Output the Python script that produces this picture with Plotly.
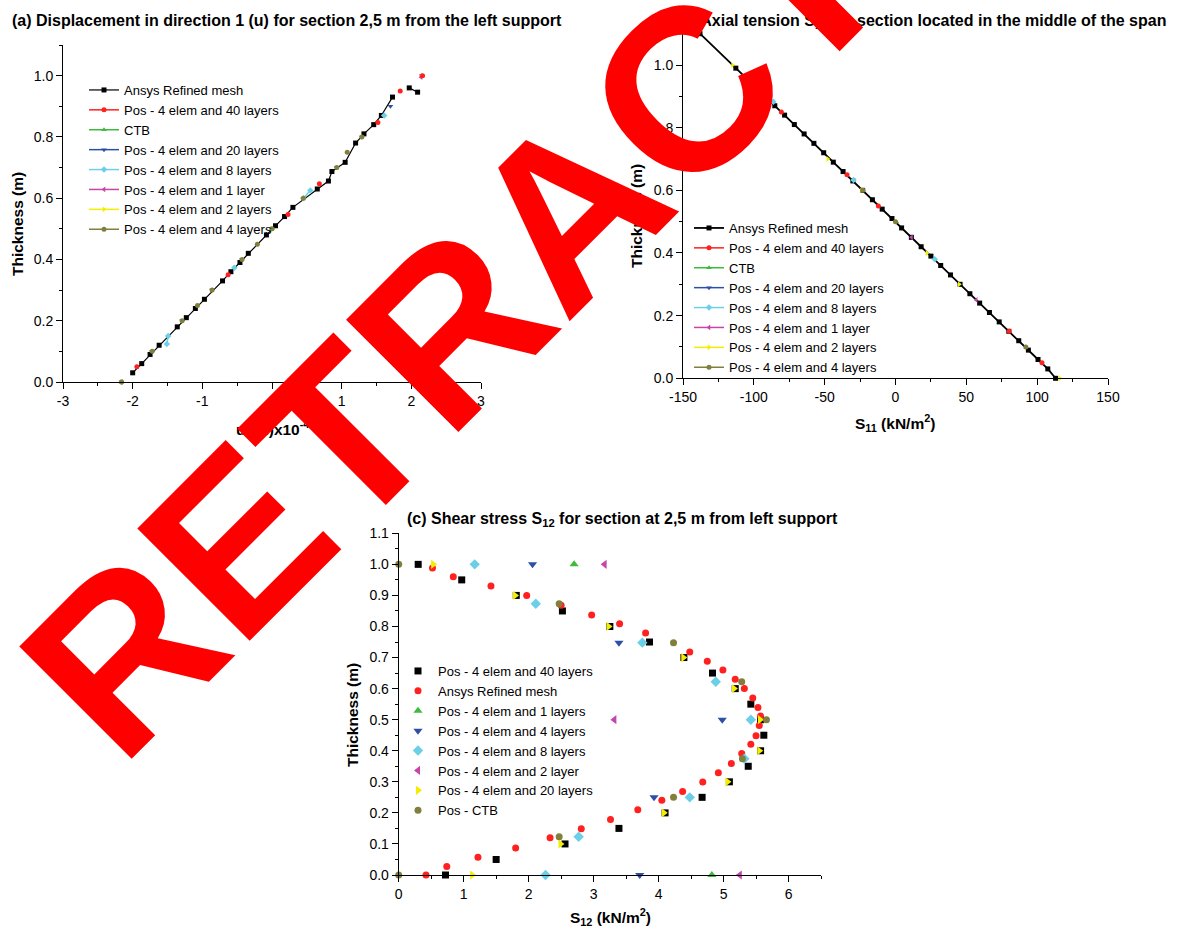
import plotly.graph_objects as go

W, H = 1178, 933
FONT = "Liberation Sans, Arial, Helvetica, sans-serif"


def px(x):
    return x / W


def py(y):
    return 1 - y / H


def separate(vals):
    """Insert gaps so consecutive points are not joined by a line."""
    out = []
    for i, v in enumerate(vals):
        if i:
            out.append(None)
        out.append(v)
    return out


# ---------------- (a) displacement u, section 2,5 m from left support ----------------
a_ansys_u = [-2.00, -1.87, -1.75, -1.62, -1.36, -1.23, -1.10, -0.97, -0.71, -0.59, -0.46, -0.34,
             -0.08, 0.05, 0.18, 0.30, 0.65, 0.81, 0.86, 1.05, 1.20, 1.32, 1.46, 1.57, 1.73, None,
             1.97, 2.09]
a_ansys_t = [0.03, 0.06, 0.09, 0.12, 0.18, 0.21, 0.24, 0.27, 0.33, 0.36, 0.39, 0.42,
             0.48, 0.51, 0.54, 0.57, 0.63, 0.656, 0.687, 0.717, 0.78, 0.81, 0.84, 0.87, 0.93, None,
             0.96, 0.946]
a_l40_u = [-1.94, -0.63, 0.23, 0.68, 1.52, 1.84, 2.16]
a_l40_t = [0.05, 0.35, 0.547, 0.647, 0.847, 0.95, 1.0]
a_ctb_u = [-2.16, 0.00, 2.16]
a_ctb_t = [0.0, 0.5, 1.0]
a_l20_u = [-2.16, -1.72, -1.29, -0.86, -0.43, 0.00, 0.45, 0.93, 1.29, 1.70, 2.15]
a_l20_t = [0.0, 0.1, 0.2, 0.3, 0.4, 0.5, 0.6, 0.7, 0.8, 0.9, 1.0]
a_l8_u = [-1.51, -1.49, None, -0.54, None, 0.45, 0.55, None, 1.61]
a_l8_t = [0.124, 0.15, None, 0.373, None, 0.60, 0.625, None, 0.87]
a_l1_u = [-2.16, 2.14]
a_l1_t = [0.0, 0.995]
a_l2_u = [-2.16, 0.00, 2.16]
a_l2_t = [0.0, 0.5, 1.0]
a_l4_u = [-2.16, -1.72, -1.29, -1.07, -0.86, -0.43, -0.21, 0.00, 0.45, 0.93, 1.08, 1.29]
a_l4_t = [0.0, 0.1, 0.2, 0.25, 0.3, 0.4, 0.45, 0.5, 0.6, 0.7, 0.75, 0.8]
a_xticks = [-3, -2, -1, 0, 1, 2, 3]
a_xlabels = ["-3", "-2", "-1", "0", "1", "2", "3"]

# ---------------- (b) axial tension S11, mid-span section ----------------
b_ansys_s = [113.0, 107.5, 100.6, 93.8, 87.0, 80.0, 73.2, 66.3, 59.4, 52.5, 45.6, 38.8,
             31.9, 25.0, 18.1, 11.2, 4.3, -2.5, -9.4, -16.3, -23.2, -30.1, -37.0, -43.9,
             -50.7, -57.6, -64.5, -71.4, -78.3, -85.2, -92.1, -98.9, -105.8, -112.7, -138.0]
b_ansys_t = [0.00, 0.03, 0.06, 0.09, 0.12, 0.15, 0.18, 0.21, 0.24, 0.27, 0.30, 0.33,
             0.36, 0.39, 0.42, 0.45, 0.48, 0.51, 0.54, 0.57, 0.60, 0.63, 0.66, 0.69,
             0.72, 0.75, 0.78, 0.81, 0.84, 0.87, 0.90, 0.93, 0.96, 0.99, 1.10]
b_l40_s = [103.4, 80.2, -12.1, -34.2, -80.6, -103.5]
b_l40_t = [0.05, 0.15, 0.55, 0.65, 0.85, 0.95]
b_ctb_s = [0.5]
b_ctb_t = [0.5]
b_l20_s = [-92.0]
b_l20_t = [0.90]
b_l8_s = [27.7, -29.6, -86.3]
b_l8_t = [0.38, 0.633, 0.883]
b_l1_s = [57.0, 11.3]
b_l1_t = [0.25, 0.45]
b_l2_s = [116.0, 45.0, 22.2, -23.9, -47.8, -115.0]
b_l2_t = [0.0, 0.3, 0.4, 0.6, 0.7, 1.0]
b_l4_s = [92.0, 0.0, -23.0]
b_l4_t = [0.1, 0.5, 0.6]
b_xticks = [-150, -100, -50, 0, 50, 100, 150]
b_xlabels = ["-150", "-100", "-50", "0", "50", "100", "150"]

# ---------------- (c) shear stress S12, section 2,5 m from left support ----------------
c_l40_s = [0.30, 0.97, 1.81, 2.52, 3.25, 3.86, 4.39, 4.83, 5.18, 5.42, 5.57, 5.62, 5.57,
           5.38, 5.09, 4.67, 4.10, 3.39, 2.56, 1.50, 0.72]
c_l40_t = [1.00, 0.95, 0.90, 0.85, 0.80, 0.75, 0.70, 0.65, 0.60, 0.55, 0.50, 0.45, 0.40,
           0.35, 0.30, 0.25, 0.20, 0.15, 0.10, 0.05, 0.00]
c_ansys_s = [0.52, 0.84, 1.42, 1.97, 2.50, 2.97, 3.40, 3.80, 4.48, 4.75, 4.99, 5.18, 5.32,
             5.45, 5.53, 5.57, 5.55, 5.50, 5.42, 5.28, 5.12, 4.92, 4.68, 4.37, 4.05, 3.68,
             3.26, 2.81, 2.33, 1.80, 1.22, 0.74, 0.42]
c_ansys_t = [0.988, 0.960, 0.930, 0.900, 0.868, 0.837, 0.809, 0.779, 0.718, 0.688, 0.660,
             0.630, 0.600, 0.570, 0.539, 0.512, 0.481, 0.448, 0.421, 0.391, 0.359, 0.329,
             0.299, 0.269, 0.241, 0.210, 0.179, 0.149, 0.120, 0.087, 0.057, 0.027, 0.000]
c_l1_s = [2.70, 4.82]
c_l1_t = [1.0, 0.0]
c_l4_s = [2.06, 3.39, 4.98, 3.93, 3.71]
c_l4_t = [1.0, 0.748, 0.50, 0.25, 0.0]
c_l8_s = [1.17, 2.11, 3.75, 4.88, 5.42, 5.32, 4.48, 2.77, 2.26]
c_l8_t = [1.0, 0.873, 0.748, 0.622, 0.50, 0.374, 0.25, 0.123, 0.0]
c_l2_s = [3.17, 3.32, 5.25]
c_l2_t = [1.0, 0.50, 0.0]
c_l20_s = [0.53, 1.79, 3.23, 4.38, 5.16, 5.56, 5.55, 5.06, 4.08, 2.49, 1.13]
c_l20_t = [1.0, 0.90, 0.80, 0.70, 0.60, 0.50, 0.40, 0.30, 0.20, 0.10, 0.0]
c_ctb_s = [0.00, 2.47, 4.23, 5.28, 5.66, 5.29, 4.23, 2.47, 0.00]
c_ctb_t = [1.0, 0.873, 0.748, 0.622, 0.50, 0.374, 0.25, 0.123, 0.0]

BLACK = "#000000"
RED = "#FF2020"
GREEN = "#3DBB3D"
BLUE = "#2E4FA6"
CYAN = "#6CCFE8"
MAGENTA = "#C545A8"
YELLOW = "#F2EE00"
OLIVE = "#80803C"

fig = go.Figure()

# series styles shared by panels (a) and (b): name, colour, symbol, legend rank
line_series = [
    ("Ansys Refined mesh", BLACK, "square", 1),
    ("Pos - 4 elem and 40 layers", RED, "circle", 2),
    ("CTB", GREEN, "triangle-up", 3),
    ("Pos - 4 elem and 20 layers", BLUE, "triangle-down", 4),
    ("Pos - 4 elem and 8 layers", CYAN, "diamond", 5),
    ("Pos - 4 elem and 1 layer", MAGENTA, "triangle-left", 6),
    ("Pos - 4 elem and 2 layers", YELLOW, "triangle-right", 7),
    ("Pos - 4 elem and 4 layers", OLIVE, "circle", 8),
]

a_data = {
    "Ansys Refined mesh": (a_ansys_u, a_ansys_t, False),
    "CTB": (a_ctb_u, a_ctb_t, True),
    "Pos - 4 elem and 2 layers": (a_l2_u, a_l2_t, True),
    "Pos - 4 elem and 20 layers": (a_l20_u, a_l20_t, True),
    "Pos - 4 elem and 1 layer": (a_l1_u, a_l1_t, True),
    "Pos - 4 elem and 8 layers": (a_l8_u, a_l8_t, False),
    "Pos - 4 elem and 40 layers": (a_l40_u, a_l40_t, True),
    "Pos - 4 elem and 4 layers": (a_l4_u, a_l4_t, True),
}
b_data = {
    "Ansys Refined mesh": (b_ansys_s, b_ansys_t, False),
    "CTB": (b_ctb_s, b_ctb_t, True),
    "Pos - 4 elem and 20 layers": (b_l20_s, b_l20_t, True),
    "Pos - 4 elem and 40 layers": (b_l40_s, b_l40_t, True),
    "Pos - 4 elem and 8 layers": (b_l8_s, b_l8_t, True),
    "Pos - 4 elem and 1 layer": (b_l1_s, b_l1_t, True),
    "Pos - 4 elem and 2 layers": (b_l2_s, b_l2_t, True),
    "Pos - 4 elem and 4 layers": (b_l4_s, b_l4_t, True),
}
style = {name: (col, sym, rank) for name, col, sym, rank in line_series}

for panel, data, xa, ya, leg, lw in (("a", a_data, "x", "y", "legend", 1.2),
                                    ("b", b_data, "x2", "y2", "legend2", 1.8)):
    for name, (xs, ts, gaps) in data.items():
        col, sym, rank = style[name]
        fig.add_trace(go.Scatter(
            x=separate(xs) if gaps else xs,
            y=separate(ts) if gaps else ts,
            mode="lines+markers", name=name, legend=leg, legendrank=rank,
            line=dict(color=col, width=lw if name.startswith("Ansys") else 1.5),
            marker=dict(color=col, symbol=sym, size=5, line=dict(width=0)),
            xaxis=xa, yaxis=ya, cliponaxis=False, connectgaps=False,
        ))

c_series = [
    ("Pos - 4 elem and 40 layers", c_l40_s, c_l40_t, BLACK, "square", 7),
    ("Ansys Refined mesh", c_ansys_s, c_ansys_t, RED, "circle", 7),
    ("Pos - 4 elem and 1 layers", c_l1_s, c_l1_t, GREEN, "triangle-up", 8),
    ("Pos - 4 elem and 4 layers", c_l4_s, c_l4_t, BLUE, "triangle-down", 8),
    ("Pos - 4 elem and 8 layers", c_l8_s, c_l8_t, CYAN, "diamond", 8),
    ("Pos - 4 elem and 2 layer", c_l2_s, c_l2_t, MAGENTA, "triangle-left", 8),
    ("Pos - 4 elem and 20 layers", c_l20_s, c_l20_t, YELLOW, "triangle-right", 8),
    ("Pos - CTB", c_ctb_s, c_ctb_t, OLIVE, "circle", 7),
]
for name, xs, ts, col, sym, size in c_series:
    fig.add_trace(go.Scatter(
        x=xs, y=ts, mode="markers", name=name, legend="legend3",
        marker=dict(color=col, symbol=sym, size=size, line=dict(width=0)),
        xaxis="x3", yaxis="y3", cliponaxis=False,
    ))


def axis(domain, rng, anchor, dtick, minor, fmt=None, tickvals=None, ticktext=None, size=14):
    d = dict(domain=domain, range=rng, anchor=anchor, showline=True, linecolor="black",
             linewidth=1, ticks="outside", ticklen=6, tickwidth=1, tickcolor="black",
             showgrid=False, zeroline=False, automargin=False, fixedrange=True,
             tickfont=dict(family=FONT, size=size, color="black"),
             minor=dict(ticks="outside", ticklen=3, tickwidth=1, tickcolor="black",
                        dtick=minor, tick0=0, showgrid=False))
    if tickvals is not None:
        d.update(tickmode="array", tickvals=tickvals, ticktext=ticktext)
    else:
        d.update(tickmode="linear", tick0=0, dtick=dtick, tickformat=fmt)
    return d


legend_common = dict(xanchor="left", yanchor="top", bgcolor="rgba(0,0,0,0)", borderwidth=0,
                     font=dict(family=FONT, size=13, color="black"), tracegroupgap=0,
                     itemclick=False, itemdoubleclick=False)


def label(text, x, y, size=15.5, angle=0, anchor="center", bold=True):
    return dict(text=f"<b>{text}</b>" if bold else text, x=px(x), y=py(y), xref="paper",
                yref="paper", showarrow=False, textangle=angle, xanchor=anchor,
                yanchor="middle", font=dict(family=FONT, size=size, color="black"))


annotations = [
    label("(a) Displacement in direction 1 (u) for section 2,5 m from the left support", 10, 21,
          size=16, anchor="left"),
    label("(b) Axial tension S<sub>11</sub> for section located in the middle of the span", 1168, 22,
          size=16, anchor="right"),
    label("(c) Shear stress S<sub>12</sub> for section at 2,5 m from left support", 622, 519,
          size=16),
    label("u (m)x10<sup>-4</sup>", 272, 428),
    label("Thickness (m)", 18, 224, angle=-90),
    label("S<sub>11</sub> (kN/m<sup>2</sup>)", 895, 423),
    label("Thickness (m)", 636, 216, angle=-90),
    label("S<sub>12</sub> (kN/m<sup>2</sup>)", 610, 917),
    label("Thickness (m)", 352, 715, angle=-90),
    dict(text="<b>RETRACTED</b>", x=px(567.6), y=py(210.2), xref="paper", yref="paper",
         showarrow=False, textangle=-45, xanchor="center", yanchor="middle",
         font=dict(family=FONT, size=231, color="#FF0000")),
]

fig.update_layout(
    width=W, height=H, margin=dict(l=0, r=0, t=0, b=0, pad=0),
    paper_bgcolor="white", plot_bgcolor="white", template="none",
    font=dict(family=FONT, size=13, color="black"),
    showlegend=True,
    xaxis=axis([px(63), px(481)], [-3, 3], "y", 1, 0.5, tickvals=a_xticks, ticktext=a_xlabels),
    yaxis=axis([py(382), py(45)], [0, 1.1], "x", 0.2, 0.1, fmt=".1f"),
    xaxis2=axis([px(683), px(1108)], [-150, 150], "y2", 50, 25, tickvals=b_xticks,
                ticktext=b_xlabels),
    yaxis2=axis([py(378.3), py(33.7)], [0, 1.1], "x2", 0.2, 0.1, fmt=".1f"),
    xaxis3=axis([px(398.7), px(821)], [0, 6.5], "y3", 1, 0.5, fmt="d"),
    yaxis3=axis([py(875), py(533.3)], [0, 1.1], "x3", 0.1, 0.05, fmt=".1f"),
    legend=dict(x=px(84), y=py(75), **legend_common),
    legend2=dict(x=px(689), y=py(213), **legend_common),
    legend3=dict(x=px(398), y=py(656), **legend_common),
    annotations=annotations,
)

fig.write_html("out.html")
